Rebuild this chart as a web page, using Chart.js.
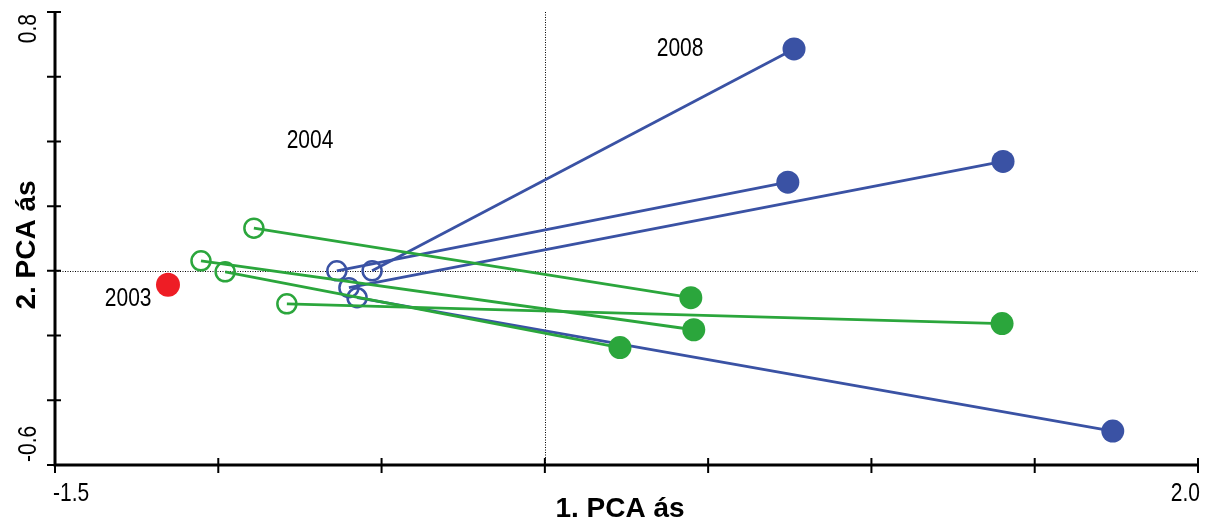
<!DOCTYPE html>
<html>
<head>
<meta charset="utf-8">
<script src="https://cdn.jsdelivr.net/npm/chart.js@4/dist/chart.umd.min.js"></script>
<style>
  html, body { margin: 0; padding: 0; background: #fff; }
  #wrap { width: 1213px; height: 524px; position: relative; }
</style>
</head>
<body>
<div id="wrap"><canvas id="pca"></canvas></div>
<script>
// PCA scores: open circles = start year, filled = end year
const greenStart = [[-0.891, 0.132], [-1.053, 0.031], [-0.979, -0.003], [-0.790, -0.102]];
const greenEnd   = [[0.447, -0.083], [0.456, -0.182], [0.230, -0.237], [1.400, -0.163]];
const blueStart  = [[-0.529, 0.000], [-0.637, 0.000], [-0.600, -0.052], [-0.575, -0.083]];
const blueEnd    = [[0.763, 0.686], [0.744, 0.274], [1.403, 0.338], [1.739, -0.495]];
const redPoint   = [[-1.154, -0.043]];

// year annotations (data units)
const yearLabels = ['2008', '2004', '2003'];
const yearPos    = [[0.414, 0.686], [-0.719, 0.400], [-1.276, -0.086]];

// axes
const xTicks = [-1.5, -1.0, -0.5, 0, 0.5, 1.0, 1.5, 2.0];
const yTicks = [0.8, 0.6, 0.4, 0.2, 0, -0.2, -0.4, -0.6];
const xTickLabels = ['-1.5', '2.0'];   // only the ends are labelled
const yTickLabels = ['0.8', '-0.6'];
const xTitle = '1. PCA ás';
const yTitle = '2. PCA ás';

const BLUE = '#3a52a4';
const GREEN = '#2ba63c';
const RED = '#ee1d25';
const FONT = '"Liberation Sans", Arial, sans-serif';
const SQUEEZE = 0.84; // reference uses a narrow face

function pairSet(start, end, color, order) {
    return {
        data: [{ x: start[0], y: start[1] }, { x: end[0], y: end[1] }],
        showLine: true,
        borderColor: color,
        borderWidth: 2.8,
        pointRadius: [9.5, 11.5],
        pointBorderWidth: [2.5, 0],
        pointBorderColor: color,
        pointBackgroundColor: ['rgba(0,0,0,0)', color],
        order: order
    };
}

const datasets = [];
greenStart.forEach((s, i) => datasets.push(pairSet(s, greenEnd[i], GREEN, 1)));
blueStart.forEach((s, i) => datasets.push(pairSet(s, blueEnd[i], BLUE, 2)));
datasets.push({
    data: redPoint.map(p => ({ x: p[0], y: p[1] })),
    pointRadius: 12,
    pointBorderWidth: 0,
    pointBackgroundColor: RED,
    order: 0
});

// narrow text helper: squeeze horizontally around the anchor
function narrowText(ctx, text, x, y, rot) {
    ctx.save();
    ctx.translate(x, y);
    if (rot) ctx.rotate(rot);
    ctx.scale(SQUEEZE, 1);
    ctx.fillText(text, 0, 0);
    ctx.restore();
}

// dotted zero lines, behind the data
const zeroLines = {
    id: 'zeroLines',
    beforeDatasetsDraw(chart) {
        const { ctx, chartArea: a, scales: { x, y } } = chart;
        ctx.save();
        ctx.strokeStyle = '#000';
        ctx.lineWidth = 1;
        ctx.setLineDash([1, 1.5]);
        const x0 = Math.round(x.getPixelForValue(0)) + 0.5;
        const y0 = Math.round(y.getPixelForValue(0)) + 0.5;
        ctx.beginPath();
        ctx.moveTo(x0, a.top); ctx.lineTo(x0, a.bottom);
        ctx.moveTo(a.left, y0); ctx.lineTo(a.right, y0);
        ctx.stroke();
        ctx.restore();
    }
};

// axis lines, crossing tick marks, labels and titles
const axesDeco = {
    id: 'axesDeco',
    afterDatasetsDraw(chart) {
        const { ctx, chartArea: a, scales: { x, y } } = chart;
        ctx.save();
        ctx.strokeStyle = '#000';
        ctx.lineWidth = 2;
        ctx.beginPath();
        xTicks.forEach(v => {
            const px = x.getPixelForValue(v);
            ctx.moveTo(px, a.bottom - 7); ctx.lineTo(px, a.bottom + 8);
        });
        yTicks.forEach(v => {
            const py = y.getPixelForValue(v);
            ctx.moveTo(a.left - 8, py); ctx.lineTo(a.left + 6, py);
        });
        ctx.stroke();

        ctx.lineWidth = 3;
        ctx.beginPath();
        ctx.moveTo(a.left, a.top); ctx.lineTo(a.left, a.bottom);
        ctx.moveTo(a.left - 1.5, a.bottom); ctx.lineTo(a.right, a.bottom);
        ctx.stroke();

        ctx.fillStyle = '#000';
        ctx.font = '25px ' + FONT;
        ctx.textBaseline = 'middle';
        // x tick labels, aligned inward
        ctx.textAlign = 'left';
        narrowText(ctx, xTickLabels[0], x.getPixelForValue(xTicks[0]) - 2, 494);
        ctx.textAlign = 'right';
        narrowText(ctx, xTickLabels[1], x.getPixelForValue(xTicks[xTicks.length - 1]) + 2, 494);

        // y tick labels, rotated
        ctx.textAlign = 'right';
        narrowText(ctx, yTickLabels[0], 29, y.getPixelForValue(yTicks[0]) + 2, -Math.PI / 2);
        ctx.textAlign = 'left';
        narrowText(ctx, yTickLabels[1], 29, y.getPixelForValue(yTicks[yTicks.length - 1]) - 3, -Math.PI / 2);

        // year annotations
        ctx.textAlign = 'center';
        yearLabels.forEach((t, i) => {
            narrowText(ctx, t, x.getPixelForValue(yearPos[i][0]), y.getPixelForValue(yearPos[i][1]));
        });

        // axis titles
        ctx.font = 'bold 28px ' + FONT;
        ctx.textAlign = 'center';
        ctx.fillText(xTitle, 620, 509);
        ctx.save();
        ctx.translate(27, 245);
        ctx.rotate(-Math.PI / 2);
        ctx.fillText(yTitle, 0, 0);
        ctx.restore();
        ctx.restore();
    }
};

new Chart(document.getElementById('pca'), {
    type: 'scatter',
    data: { datasets: datasets },
    options: {
        responsive: true,
        maintainAspectRatio: false,
        animation: false,
        layout: { padding: { top: 10, right: 15, left: 0, bottom: 0 } },
        plugins: { legend: { display: false }, tooltip: { enabled: false } },
        scales: {
            x: {
                type: 'linear', min: -1.5, max: 2.0,
                ticks: { display: false },
                grid: { display: false },
                border: { display: false },
                afterFit(scale) { scale.height = 59; }
            },
            y: {
                type: 'linear', min: -0.6, max: 0.8,
                ticks: { display: false },
                grid: { display: false },
                border: { display: false },
                afterFit(scale) { scale.width = 55; }
            }
        }
    },
    plugins: [zeroLines, axesDeco]
});
</script>
</body>
</html>
